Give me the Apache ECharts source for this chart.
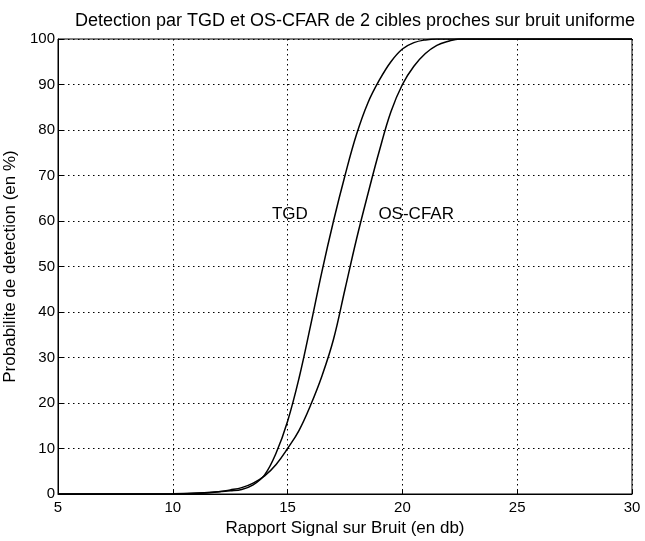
<!DOCTYPE html>
<html>
<head>
<meta charset="utf-8">
<script src="https://cdn.jsdelivr.net/npm/echarts@6/dist/echarts.min.js"></script>
<style>
html,body{margin:0;padding:0;background:#fff;}
#chart{width:645px;height:541px;}
</style>
</head>
<body>
<div id="chart"></div>
<script>
// values
const snr=[5,8,10,11,12,12.5,13,13.5,14,14.5,15,15.5,16,16.5,17,17.5,18,18.5,19,19.5,20,20.5,21,21.5,22,22.5,23,30];
const tgd=[0,0,0.05,0.2,0.5,0.7,1.0,2.0,4.2,9,16,25.5,37,49,60,70,79,86,91,95,97.8,99.2,99.8,100,100,100,100,100];
const osCfar=[0,0,0.02,0.1,0.5,0.9,1.4,2.4,4.0,6.5,10,14,19.5,26,34,45,56,66,75.5,84,90,94,96.8,98.6,99.5,100,100,100];
const curveLabels=[["TGD",15.1,61.5],["OS-CFAR",20.6,61.5]];

const font="'Liberation Sans', Arial, Helvetica, sans-serif";
const pair=(xs,ys)=>xs.map((x,i)=>[x,ys[i]]);

const chart=echarts.init(document.getElementById("chart"));

chart.setOption({
    animation:false,
    backgroundColor:"#fff",
    title:{
        text:"Detection par TGD et OS-CFAR de 2 cibles proches sur bruit uniforme",
        left:350,
        textAlign:"center",
        top:7,
        textStyle:{fontFamily:font,fontSize:18,fontWeight:"normal",color:"#000"}
    },
    grid:{
        left:58,right:13,top:39,bottom:47,
        outerBoundsMode:"none",containLabel:false,
        show:true,borderColor:"#000",borderWidth:1
    },
    xAxis:{
        type:"value",min:5,max:30,interval:5,
        name:"Rapport Signal sur Bruit (en db)",
        nameLocation:"middle",nameGap:25,
        nameTextStyle:{fontFamily:font,fontSize:17,color:"#000"},
        axisLine:{show:true,lineStyle:{color:"#000"}},
        axisTick:{show:true,inside:true,length:5,lineStyle:{color:"#000"}},
        axisLabel:{fontFamily:font,fontSize:15,color:"#000",margin:6},
        splitLine:{show:true,lineStyle:{color:"#000",type:[1.5,3.5],width:1}}
    },
    yAxis:{
        type:"value",min:0,max:100,interval:10,
        name:"Probabilite de detection (en %)",
        nameLocation:"middle",nameGap:38,
        nameTextStyle:{fontFamily:font,fontSize:17,color:"#000"},
        axisLine:{show:true,lineStyle:{color:"#000"}},
        axisTick:{show:true,inside:true,length:5,lineStyle:{color:"#000"}},
        axisLabel:{fontFamily:font,fontSize:15,color:"#000",margin:3},
        splitLine:{show:true,lineStyle:{color:"#000",type:[1.5,3.5],width:1}}
    },
    series:[
        {
            name:"TGD",type:"line",data:pair(snr,tgd),
            smooth:0.4,showSymbol:false,
            lineStyle:{color:"#000",width:1.5}
        },
        {
            name:"OS-CFAR",type:"line",data:pair(snr,osCfar),
            smooth:0.4,showSymbol:false,
            lineStyle:{color:"#000",width:1.5}
        },
        {
            type:"scatter",symbolSize:0,silent:true,
            data:curveLabels.map(l=>({value:[l[1],l[2]],name:l[0]})),
            label:{
                show:true,position:"inside",formatter:p=>p.name,
                fontFamily:font,fontSize:17,color:"#000",opacity:1
            }
        }
    ]
});
</script>
</body>
</html>
